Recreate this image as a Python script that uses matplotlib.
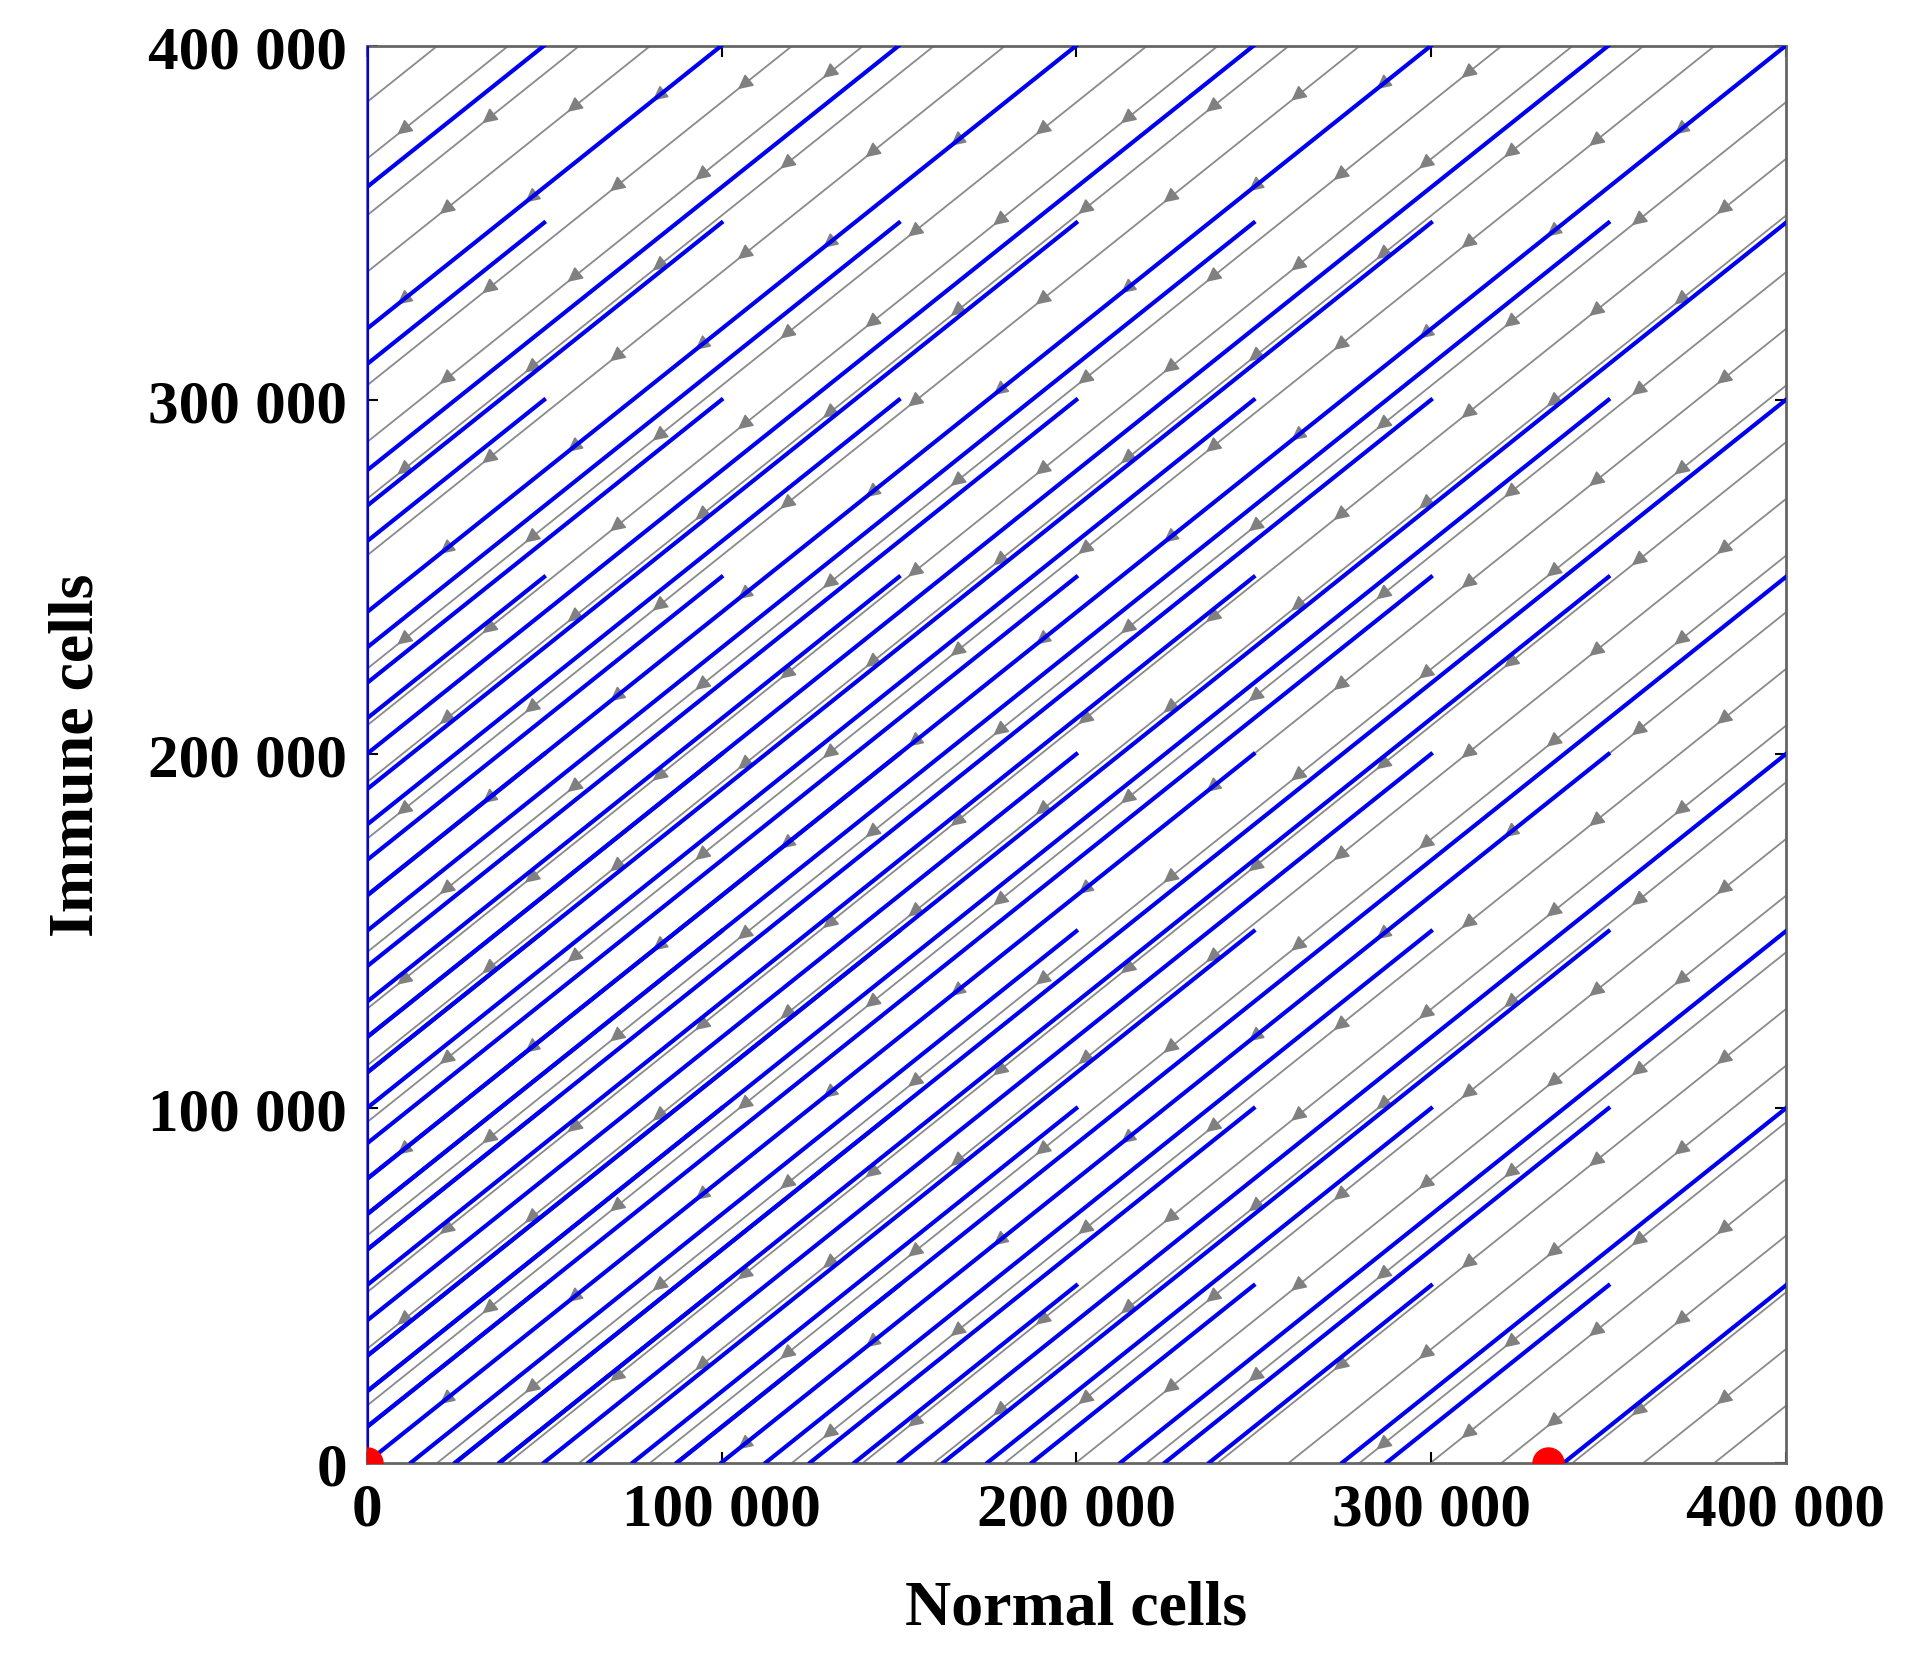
import numpy as np
import matplotlib
matplotlib.use("Agg")
import matplotlib.pyplot as plt

# endpoints of trajectories (grid of initial points)
traj_x0 = [50000, 100000, 150000, 200000, 250000, 300000, 350000, 400000]
traj_y0 = [0, 50000, 100000, 150000, 200000, 250000, 300000, 350000, 400000]
slope = 0.8  # dI/dN along trajectories
# gray flow lines: intercepts I = slope*N + c
flow_c = list(range(-320000, 400001, 16000))
eq_x = [0, 333000]
eq_y = [0, 0]
xticks = [0, 100000, 200000, 300000, 400000]
xticklabels = ["0", "100 000", "200 000", "300 000", "400 000"]
yticklabels = ["0", "100 000", "200 000", "300 000", "400 000"]

plt.rcParams['font.family'] = ['Liberation Serif', 'DejaVu Serif']
fig = plt.figure(figsize=(19.1, 16.65), dpi=100)
ax = fig.add_axes([0.192, 0.121, 0.743, 0.851])

# gray flow lines with arrows (pointing down-left)
for k, c in enumerate(flow_c):
    xa = max(0, -c / slope)
    xb = min(400000, (400000 - c) / slope)
    if xb <= xa:
        continue
    ax.plot([xa, xb], [slope * xa + c, slope * xb + c], color='#8a8a8a', lw=1.3, zorder=1)
    start = (k % 3) * 12000
    for xs in np.arange(start, 400000, 36000):
        if xa + 6000 < xs < xb - 6000:
            ax.annotate("", xy=(xs - 4000, slope * (xs - 4000) + c), xytext=(xs, slope * xs + c),
                        arrowprops=dict(arrowstyle='-|>', color='#808080', lw=1.3, mutation_scale=22),
                        zorder=2)

# blue trajectories
for x0 in traj_x0:
    for y0 in traj_y0:
        t = min(x0, y0 / slope)
        ax.plot([x0 - t, x0], [y0 - slope * t, y0], color='#0000ee', lw=3, zorder=3)
ax.plot([0, 0], [0, 400000], color='#0000ee', lw=3, zorder=3)

ax.scatter(eq_x, eq_y, s=500, color='red', zorder=5, clip_on=True)

ax.set_xlim(0, 400000)
ax.set_ylim(0, 400000)
ax.set_xticks(xticks)
ax.set_xticklabels(xticklabels)
ax.set_yticks(xticks)
ax.set_yticklabels(yticklabels)
ax.tick_params(labelsize=44, width=1.5, length=8, direction='in', top=True, right=True, pad=14)
for l in ax.get_xticklabels() + ax.get_yticklabels():
    l.set_fontweight('bold')
ax.set_xlabel("Normal cells", fontsize=46, fontweight='bold', labelpad=30)
ax.set_ylabel("Immune cells", fontsize=46, fontweight='bold', labelpad=30)
for s in ax.spines.values():
    s.set_color('#666666'); s.set_linewidth(2)
fig.savefig("out.png", dpi=100)
